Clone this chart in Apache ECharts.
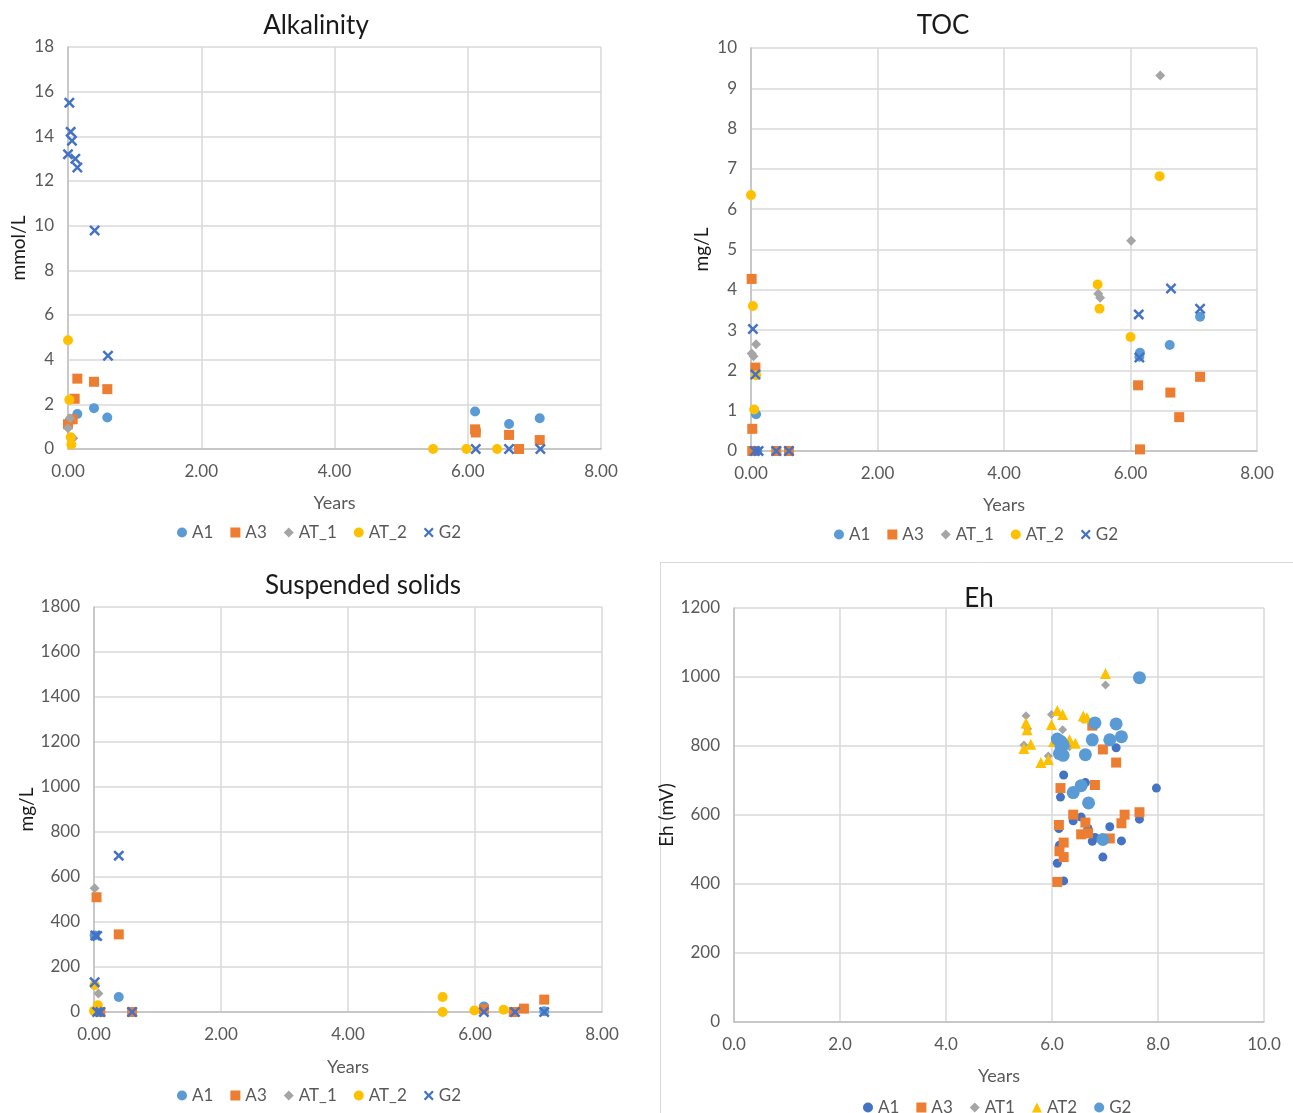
<!DOCTYPE html>
<html><head><meta charset="utf-8">
<script src="https://cdn.jsdelivr.net/npm/echarts@6/dist/echarts.min.js"></script>
<style>html,body{margin:0;padding:0;background:#fff}#c{width:1293px;height:1113px}</style>
</head><body><div id="c"></div>
<script>
// ---------- Alkalinity (mmol/L) ----------
const alkA1 = [[0.03,1.3],[0.14,1.57],[0.39,1.83],[0.59,1.41],[6.11,1.68],[6.12,0.8],[6.62,1.12],[7.08,1.38]];
const alkA3 = [[0,1.11],[0.07,1.33],[0.10,2.25],[0.14,3.15],[0.39,3.01],[0.59,2.68],[6.11,0.88],[6.12,0.74],[6.62,0.63],[6.77,0],[7.08,0.4]];
const alkAT1 = [[0.03,1.38],[0,0.93],[0.08,0.48]];
const alkAT2 = [[0,4.87],[0.02,2.2],[0.04,0.53],[0.05,0.2],[5.48,0],[5.98,0],[6.44,0]];
const alkG2 = [[0.02,15.5],[0.04,14.2],[0.06,13.8],[0,13.2],[0.11,13.0],[0.14,12.6],[0.40,9.78],[0.60,4.18],[6.12,0],[6.62,0],[7.09,0]];
// ---------- TOC (mg/L) ----------
const tocA1 = [[0.08,0.91],[0.1,0],[6.15,2.44],[6.14,2.34],[6.62,2.63],[7.10,3.33]];
const tocA3 = [[0.01,4.27],[0.07,2.07],[0.02,0.55],[0.02,0],[0.4,0],[0.6,0],[6.12,1.63],[6.15,0.04],[6.63,1.45],[6.77,0.84],[7.10,1.84]];
const tocAT1 = [[0.08,2.65],[0.01,2.42],[0.04,2.35],[5.49,3.90],[5.52,3.80],[6.01,5.22],[6.47,9.32]];
const tocAT2 = [[0,6.35],[0.03,3.6],[0.08,1.88],[0.05,1.03],[5.48,4.13],[5.51,3.53],[6.0,2.83],[6.46,6.82]];
const tocG2 = [[0.03,3.03],[0.07,1.9],[0.06,0],[0.12,0],[0.4,0],[0.6,0],[6.13,3.39],[6.14,2.32],[6.64,4.03],[7.10,3.53]];
// ---------- Suspended solids (mg/L) ----------
const ssA1 = [[0.01,340],[0.39,67],[0.08,0],[6.14,25],[7.09,3]];
const ssA3 = [[0.04,510],[0.39,345],[0.1,0],[0.6,0],[6.14,12],[6.61,0],[6.77,15],[7.09,55]];
const ssAT1 = [[0.01,550],[0.07,82],[5.49,0]];
const ssAT2 = [[0.01,120],[0.06,30],[0,5],[5.49,67],[5.49,0],[5.99,7],[6.45,10]];
const ssG2 = [[0.39,695],[0.05,338],[0.02,340],[0.01,132],[0.05,0],[0.1,0],[0.6,0],[6.14,0],[6.63,0],[7.09,0]];
// ---------- Eh (mV) ----------
const ehA1 = [[6.10,460],[6.14,512],[6.13,561],[6.16,652],[6.22,409],[6.22,716],[6.40,583],[6.55,594],[6.63,694],[6.68,561],[6.76,524],[6.81,535],[6.96,478],[7.09,566],[7.21,795],[7.31,525],[7.65,588],[7.97,678]];
const ehA3 = [[6.10,406],[6.13,571],[6.16,678],[6.14,495],[6.22,520],[6.22,478],[6.40,601],[6.55,544],[6.63,578],[6.68,547],[6.76,859],[6.81,687],[6.96,790],[7.09,532],[7.21,752],[7.31,576],[7.37,601],[7.65,608]];
const ehAT1 = [[5.51,888],[5.47,803],[5.54,850],[5.93,771],[5.99,891],[6.20,847],[6.33,798],[6.59,877],[7.01,977]];
const ehAT2 = [[5.47,793],[5.51,867],[5.53,847],[5.60,805],[5.79,752],[5.93,761],[5.99,862],[6.03,813],[6.10,903],[6.20,891],[6.33,818],[6.44,808],[6.59,887],[6.66,882],[7.01,1010]];
const ehG2 = [[6.10,820],[6.14,778],[6.17,813],[6.21,803],[6.21,773],[6.17,798],[6.40,665],[6.55,685],[6.63,775],[6.69,635],[6.76,818],[6.81,867],[6.96,529],[7.09,818],[7.21,864],[7.31,827],[7.65,998]];

const X_PATH = 'path://M1.6,0 L5,3.4 L8.4,0 L10,1.6 L6.6,5 L10,8.4 L8.4,10 L5,6.6 L1.6,10 L0,8.4 L3.4,5 L0,1.6 Z';
const LB = '#5B9BD5', OR = '#ED7D31', GR = '#A5A5A5', YE = '#FFC000', DB = '#4472C4';
const FONT = 'Lato, "Open Sans", sans-serif';
const TXT = '#595959';

const panels = [
  {title:'Alkalinity', tx:311, ty:8, grid:{left:68, top:47, width:533, height:402},
   ymax:18, yint:2, xmax:8, xdec:2, yname:'mmol/L', ygap:40, xgap:45, legend:{left:172, top:519},
   series:[['A1',alkA1,'circle',LB,10],['A3',alkA3,'rect',OR,10],['AT_1',alkAT1,'diamond',GR,10],['AT_2',alkAT2,'circle',YE,10],['G2',alkG2,X_PATH,DB,11]]},
  {title:'TOC', tx:938, ty:8, grid:{left:751, top:48, width:506, height:403},
   ymax:10, yint:1, xmax:8, xdec:2, yname:'mg/L', ygap:40, xgap:45, legend:{left:829, top:521},
   series:[['A1',tocA1,'circle',LB,10],['A3',tocA3,'rect',OR,10],['AT_1',tocAT1,'diamond',GR,10],['AT_2',tocAT2,'circle',YE,10],['G2',tocG2,X_PATH,DB,11]]},
  {title:'Suspended solids', tx:358, ty:568, grid:{left:94, top:607, width:508, height:405},
   ymax:1800, yint:200, xmax:8, xdec:2, yname:'mg/L', ygap:56, xgap:46, legend:{left:172, top:1082},
   series:[['A1',ssA1,'circle',LB,10],['A3',ssA3,'rect',OR,10],['AT_1',ssAT1,'diamond',GR,10],['AT_2',ssAT2,'circle',YE,10],['G2',ssG2,X_PATH,DB,11]]},
  {title:'Eh', tx:974, ty:581, grid:{left:734, top:608, width:530, height:414},
   ymax:1200, yint:200, xmax:10, xdec:1, yname:'Eh (mV)', ygap:47, xgap:45, legend:{left:858, top:1094},
   series:[['A1',ehA1,'circle',DB,9],['A3',ehA3,'rect',OR,10],['AT1',ehAT1,'diamond',GR,9],['AT2',ehAT2,'triangle',YE,11],['G2',ehG2,'circle',LB,13]]}
];

const option = {backgroundColor:'#fff', animation:false, title:[], legend:[], grid:[], xAxis:[], yAxis:[], series:[],
  graphic:[
    {type:'line', shape:{x1:660.5,y1:562,x2:660.5,y2:1113}, style:{stroke:'#d9d9d9',lineWidth:1}},
    {type:'line', shape:{x1:660,y1:562.5,x2:1293,y2:562.5}, style:{stroke:'#d9d9d9',lineWidth:1}}
  ]};

panels.forEach((p,i)=>{
  option.title.push({text:p.title, left:p.tx, top:p.ty, textAlign:'center',
    textStyle:{fontFamily:FONT, fontSize:26, fontWeight:'normal', color:'#1a1a1a'}});
  option.grid.push(Object.assign({containLabel:false}, p.grid));
  option.xAxis.push({gridIndex:i, type:'value', min:0, max:p.xmax, interval:2,
    name:'Years', nameLocation:'middle', nameGap:p.xgap,
    nameTextStyle:{fontFamily:FONT, fontSize:18, color:TXT},
    axisLine:{show:true, onZero:false, lineStyle:{color:'#bfbfbf', width:1.5}}, axisTick:{show:false},
    axisLabel:{fontFamily:FONT, fontSize:17, color:TXT, margin:14, formatter:v=>v.toFixed(p.xdec)},
    splitLine:{show:true, lineStyle:{color:'#d9d9d9', width:1.5}}});
  option.yAxis.push({gridIndex:i, type:'value', min:0, max:p.ymax, interval:p.yint,
    name:p.yname, nameLocation:'middle', nameGap:p.ygap, nameRotate:90,
    nameTextStyle:{fontFamily:FONT, fontSize:19, color:'#1a1a1a'},
    axisLine:{show:true, onZero:false, lineStyle:{color:'#bfbfbf', width:1.5}}, axisTick:{show:false},
    axisLabel:{fontFamily:FONT, fontSize:17, color:TXT, margin:14, formatter:v=>String(v)},
    splitLine:{show:true, lineStyle:{color:'#d9d9d9', width:1.5}}});
  const ldata = [];
  p.series.forEach(s=>{
    option.series.push({type:'scatter', name:s[0], xAxisIndex:i, yAxisIndex:i, data:s[1],
      symbol:s[2], symbolSize:s[4], itemStyle:{color:s[3], opacity:1}, emphasis:{disabled:true}});
    ldata.push({name:s[0], icon:s[2], itemStyle:{color:s[3]}});
  });
  option.legend.push({data:ldata, left:p.legend.left, top:p.legend.top, orient:'horizontal',
    itemWidth:10, itemHeight:10, itemGap:17, selectedMode:false,
    textStyle:{fontFamily:FONT, fontSize:17, color:TXT}});
});

const chart = echarts.init(document.getElementById('c'), null, {renderer:'canvas'});
chart.setOption(option);
</script></body></html>
